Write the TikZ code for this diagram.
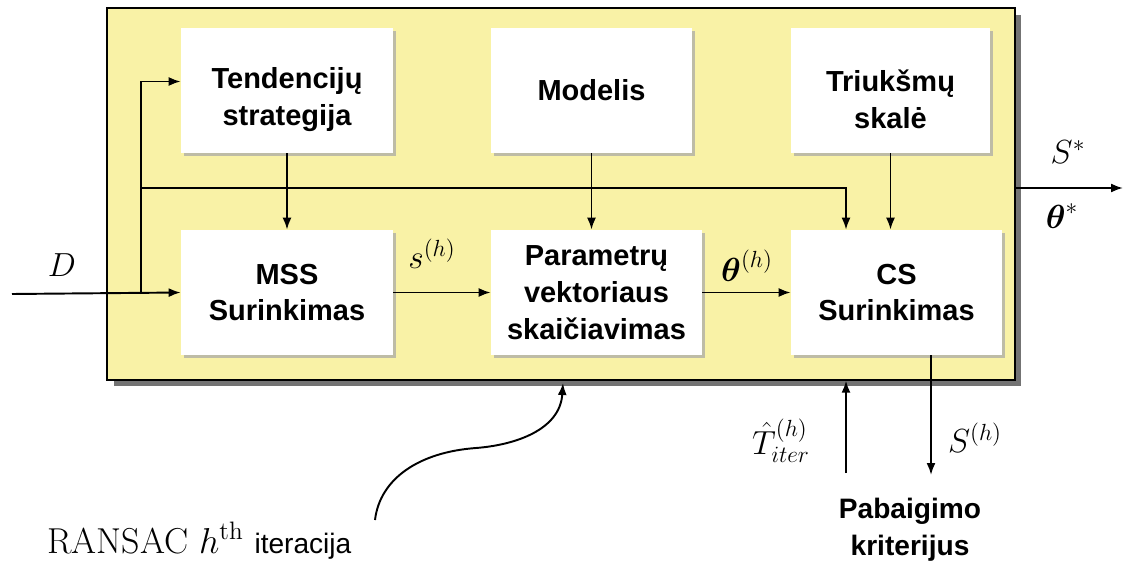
\documentclass[tikz,border=0pt]{standalone}
\usepackage{fix-cm}
\usepackage{amsmath}
\usepackage{fontspec}
\newfontfamily\arialfont{Liberation Sans}
\usetikzlibrary{arrows.meta,shadows}
\definecolor{geltona}{RGB}{249,242,166}
\tikzset{
    blokas/.style={fill=white, minimum height=2.5cm, align=center,
        font=\arialfont\bfseries\fontsize{16.5}{21}\selectfont,
        drop shadow={shadow xshift=0.06cm, shadow yshift=-0.06cm, fill=black!35, opacity=0.7}},
    rodykle/.style={-{Latex[length=2.4mm,width=1.8mm]}, line width=1.1pt},
    zyme/.style={font=\fontsize{19}{22}\selectfont}
}
\newcommand{\nuleisti}{\rule{0pt}{0.8cm}}
\begin{document}
\begin{tikzpicture}[x=0.02cm, y=-0.02cm]
        \useasboundingbox (0,0) rectangle (1131,564);
        % yellow frame with its shadow
        \node[draw, fill=geltona, line width=0.8pt, minimum width=18.16cm, minimum height=7.44cm,
              drop shadow={shadow xshift=0.13cm, shadow yshift=-0.13cm, fill=black!55, opacity=1}] (remas) at (561,194) {};
        % blocks, top row then bottom row
        \node[blokas, minimum width=4.24cm] (tend) at (287,90.5) {\nuleisti Tendencijų\\strategija};
        \node[blokas, minimum width=4.02cm] (modelis) at (591.5,90.5) {Modelis};
        \node[blokas, minimum width=3.98cm] (triuk) at (890.5,90.5) {\nuleisti Triukšmų\\skalė};
        \node[blokas, minimum width=4.24cm] (mss) at (287,292.5) {MSS\\Surinkimas};
        \node[blokas, minimum width=4.22cm] (param) at (596.5,292.5) {Parametrų\\vektoriaus\\skaičiavimas};
        \node[blokas, minimum width=4.22cm] (cs) at (896.5,292.5) {CS\\Surinkimas};
        % free ends of the connectors
        \coordinate (iejimas) at (12,294);
        \coordinate (sakota) at (141,294);
        \coordinate (magistrale) at (141,188);
        \coordinate (isejimas) at (1123,188);
        \coordinate (tsaknis) at (846,473);
        \coordinate (sgalas) at (931,475);
        \coordinate (lenkis) at (375,520);
        \coordinate (lankas) at (563,383);
        % data input and its branches
        \draw[rodykle] (iejimas) -- (mss.west);
        \draw[rodykle] (sakota) |- ([yshift=0.18cm]tend.west);
        \draw[rodykle] (magistrale) -| ([xshift=-1.01cm]cs.north);
        % top blocks feed the bottom row
        \foreach \a/\b in {tend/mss, modelis/param, triuk/cs}
            \draw[rodykle] (\a.south) -- (\a.south |- \b.north);
        \draw[rodykle] (mss) -- (param);
        \draw[rodykle] (param) -- (cs);
        % output, stopping criterion, iteration
        \draw[rodykle] (remas.east |- magistrale) -- (isejimas);
        \draw[rodykle] (tsaknis) -- (tsaknis |- remas.south);
        \draw[rodykle] (cs.south -| sgalas) -- (sgalas);
        \draw[rodykle] (lenkis) .. controls (380,478) and (420,452) .. (476,448)
            .. controls (515,445) and (560,430) .. (lankas);
        % labels
        \node[zyme] (dz) at (62,265) {$D$};
        \node[zyme] (sh) at (432,254) {$s^{(h)}$};
        \node[zyme] (thh) at (747,266) {$\boldsymbol{\theta}^{(h)}$};
        \node[zyme] (sz) at (1068,152) {$S^{*}$};
        \node[zyme] (thz) at (1062,216) {$\boldsymbol{\theta}^{*}$};
        \node[zyme] (tz) at (781,441) {$\hat{T}^{(h)}_{iter}$};
        \node[zyme] (shz) at (975,438) {$S^{(h)}$};
        \node[font=\arialfont\bfseries\fontsize{16}{21}\selectfont, align=center] (pab) at (910,530) {Pabaigimo\\kriterijus};
        \node[font=\fontsize{20.5}{24}\selectfont, anchor=base west, inner sep=0pt] (ransac) at (47,553) {RANSAC $h^{\text{th}}$ {\arialfont\fontsize{16}{19}\selectfont iteracija}};
\end{tikzpicture}
\end{document}
